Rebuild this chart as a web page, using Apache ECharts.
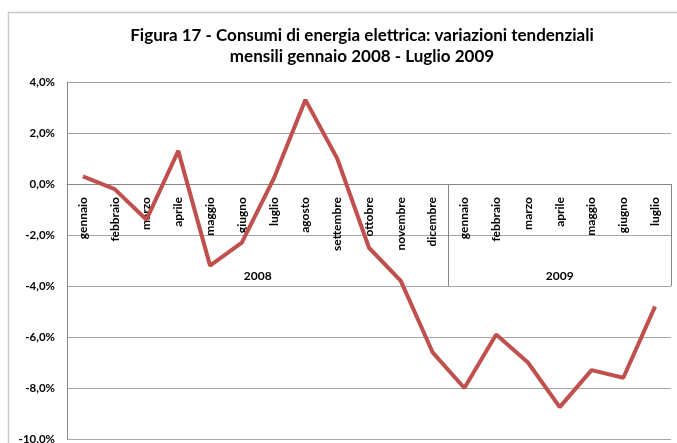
<!DOCTYPE html>
<html>
<head>
<meta charset="utf-8">
<script src="https://cdn.jsdelivr.net/npm/echarts@6/dist/echarts.min.js"></script>
<style>
	html, body { margin: 0; padding: 0; background: #fff; }
</style>
</head>
<body>
<div id="main" style="width: 677px;height: 443px"></div>
<script>
	// mesi (primo livello dell'asse)
	var mesi = ['gennaio', 'febbraio', 'marzo', 'aprile', 'maggio', 'giugno', 'luglio', 'agosto',
		'settembre', 'ottobre', 'novembre', 'dicembre',
		'gennaio', 'febbraio', 'marzo', 'aprile', 'maggio', 'giugno', 'luglio'];
	// variazioni tendenziali %
	var variazioni = [0.3, -0.2, -1.4, 1.3, -3.2, -2.3, 0.2, 3.3, 1.0, -2.5, -3.8, -6.6,
		-8.0, -5.9, -7.0, -8.75, -7.3, -7.6, -4.8];
	// secondo livello: anni
	var anni = ['2008', '2009'];
	var mesiPerAnno = [12, 7];

	var titolo = 'Figura 17 - Consumi di energia elettrica: variazioni tendenziali\nmensili gennaio 2008 - Luglio 2009';

	var myChart = echarts.init(document.getElementById('main'));
	var fontFam = 'Lato, "Liberation Sans", sans-serif';

	// separatori e centri dei gruppi di anni
	var separatori = [0];
	var centri = [];
	var acc = 0;
	for (let i = 0; i < mesiPerAnno.length; i++) {
		centri.push(acc + mesiPerAnno[i] / 2);
		acc += mesiPerAnno[i];
		separatori.push(acc);
	}

	// asse delle categorie sulla linea dello 0% (offset dal fondo della griglia)
	var offsetZero = -255;

	var option = {
		animation: false,
		grid: {
			left: 67,
			right: 6,
			top: 82,
			bottom: 4,
			outerBoundsMode: 'none'
		},
		graphic: [{
				type: 'rect',
				silent: true,
				shape: { x: 8.5, y: 12.5, width: 700, height: 460 },
				style: { fill: 'none', stroke: '#c8c8c8', lineWidth: 1.5 }
			},
			{
				type: 'text',
				x: 362,
				y: 25,
				style: {
					text: titolo,
					textAlign: 'center',
					textVerticalAlign: 'top',
					font: 'bold 17px ' + fontFam,
					lineHeight: 21,
					fill: '#000'
				}
			}
		],
		xAxis: [{
				type: 'category',
				data: mesi,
				boundaryGap: true,
				position: 'bottom',
				offset: offsetZero,
				axisLine: {
					onZero: false,
					lineStyle: { color: '#868686' }
				},
				axisTick: { show: false },
				axisLabel: {
					interval: 0,
					rotate: 90,
					margin: 13,
					fontSize: 12,
					fontWeight: 'bold',
					fontFamily: fontFam,
					color: '#000'
				},
				splitLine: { show: false }
			},
			{
				type: 'value',
				min: 0,
				max: mesi.length,
				position: 'bottom',
				offset: offsetZero,
				axisLine: {
					show: false,
					onZero: false
				},
				axisTick: {
					show: true,
					customValues: separatori,
					length: 102,
					lineStyle: { color: '#868686' }
				},
				axisLabel: {
					customValues: centri,
					formatter: function (v) {
						return anni[centri.indexOf(v)];
					},
					margin: 86,
					fontSize: 12,
					fontWeight: 'bold',
					fontFamily: fontFam,
					color: '#000'
				},
				splitLine: { show: false }
			}
		],
		yAxis: {
			type: 'value',
			min: -10,
			max: 4,
			interval: 2,
			axisLine: { show: true, onZero: false, lineStyle: { color: '#868686' } },
			axisTick: { show: false },
			axisLabel: {
				margin: 12,
				fontSize: 11.5,
				fontWeight: 'bold',
				fontFamily: fontFam,
				color: '#000',
				formatter: function (v) {
					return v.toFixed(1).replace('.', ',') + '%';
				}
			},
			splitLine: { lineStyle: { color: '#a6a6a6' } }
		},
		series: [{
			type: 'line',
			xAxisIndex: 0,
			data: variazioni,
			symbol: 'none',
			lineStyle: { color: '#c0504d', width: 4 },
			itemStyle: { color: '#c0504d' }
		}]
	};

	option && myChart.setOption(option);
</script>
</body>
</html>
